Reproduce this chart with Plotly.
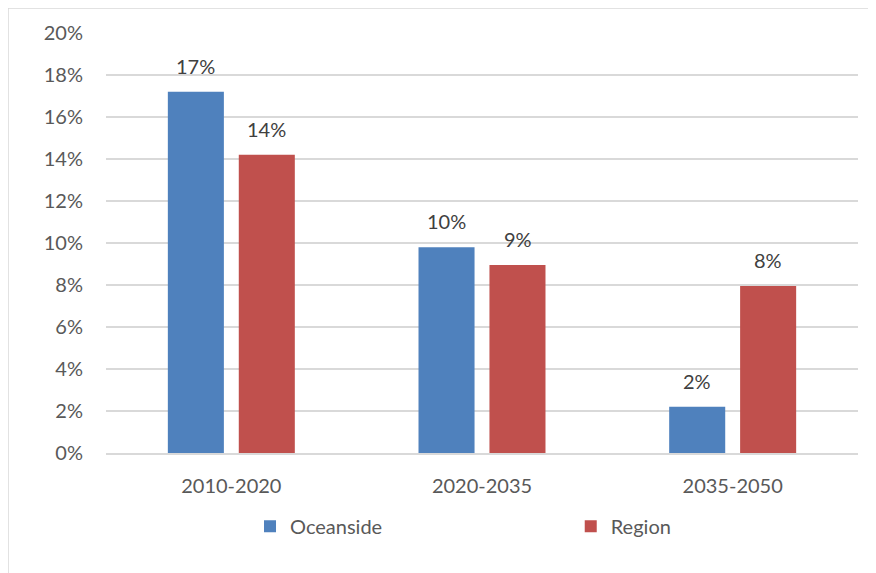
import plotly.graph_objects as go

categories = ["2010-2020", "2020-2035", "2035-2050"]
oceanside = [0.172, 0.098, 0.022]
region = [0.142, 0.0895, 0.0795]
series_names = ["Oceanside", "Region"]
colors = ["#4f81bd", "#c0504d"]
tick_vals = [0, 0.02, 0.04, 0.06, 0.08, 0.10, 0.12, 0.14, 0.16, 0.18, 0.20]
tick_text = ["0%", "2%", "4%", "6%", "8%", "10%", "12%", "14%", "16%", "18%", "20%"]

FONT = "Lato"
FS = 20
fig = go.Figure()
legend_ids = ["legend", "legend2"]
for name, vals, col, lg in zip(series_names, [oceanside, region], colors, legend_ids):
    fig.add_trace(go.Bar(name=name, x=categories, y=vals, marker_color=col,
                         marker_line_width=0, legend=lg))

offsets = [-35.5, 35.5]
for off, vals in zip(offsets, [oceanside, region]):
    for c, v in zip(categories, vals):
        fig.add_annotation(x=c, y=v, text=f"{round(v*100)}%", showarrow=False,
                           xshift=off, yshift=12, yanchor="bottom",
                           font=dict(family=FONT, size=FS, color="#404040"))

fig.add_shape(type="rect", xref="paper", yref="paper", x0=-0.1303, x1=1.06,
              y0=-0.35, y1=1.0595, line=dict(color="#d9d9d9", width=1.5),
              fillcolor="rgba(0,0,0,0)", layer="below")

legend_style = dict(orientation="h", y=-0.128, yanchor="top", xanchor="left",
                    font=dict(family=FONT, size=FS, color="#595959"),
                    itemwidth=30, bgcolor="rgba(0,0,0,0)")
fig.update_layout(
    width=868, height=565,
    margin=dict(l=98, r=18, t=25, b=120),
    paper_bgcolor="white", plot_bgcolor="white",
    barmode="group", bargap=0.434, bargroupgap=0.21,
    font=dict(family=FONT, size=FS, color="#595959"),
    showlegend=True,
    legend=dict(x=0.1915, **legend_style),
    legend2=dict(x=0.618, **legend_style),
)
fig.update_xaxes(showgrid=False, showline=True, linecolor="#d9d9d9", linewidth=1.5,
                 ticks="", ticklabelstandoff=14,
                 tickfont=dict(family=FONT, size=FS, color="#595959"))
fig.update_yaxes(range=[0, 0.20], tickvals=tick_vals, ticktext=tick_text,
                 showgrid=True, gridcolor="#d9d9d9", gridwidth=1.5,
                 zeroline=False, showline=False, ticks="", ticklabelstandoff=22,
                 tickfont=dict(family=FONT, size=FS, color="#595959"))

fig.write_html("out.html")
